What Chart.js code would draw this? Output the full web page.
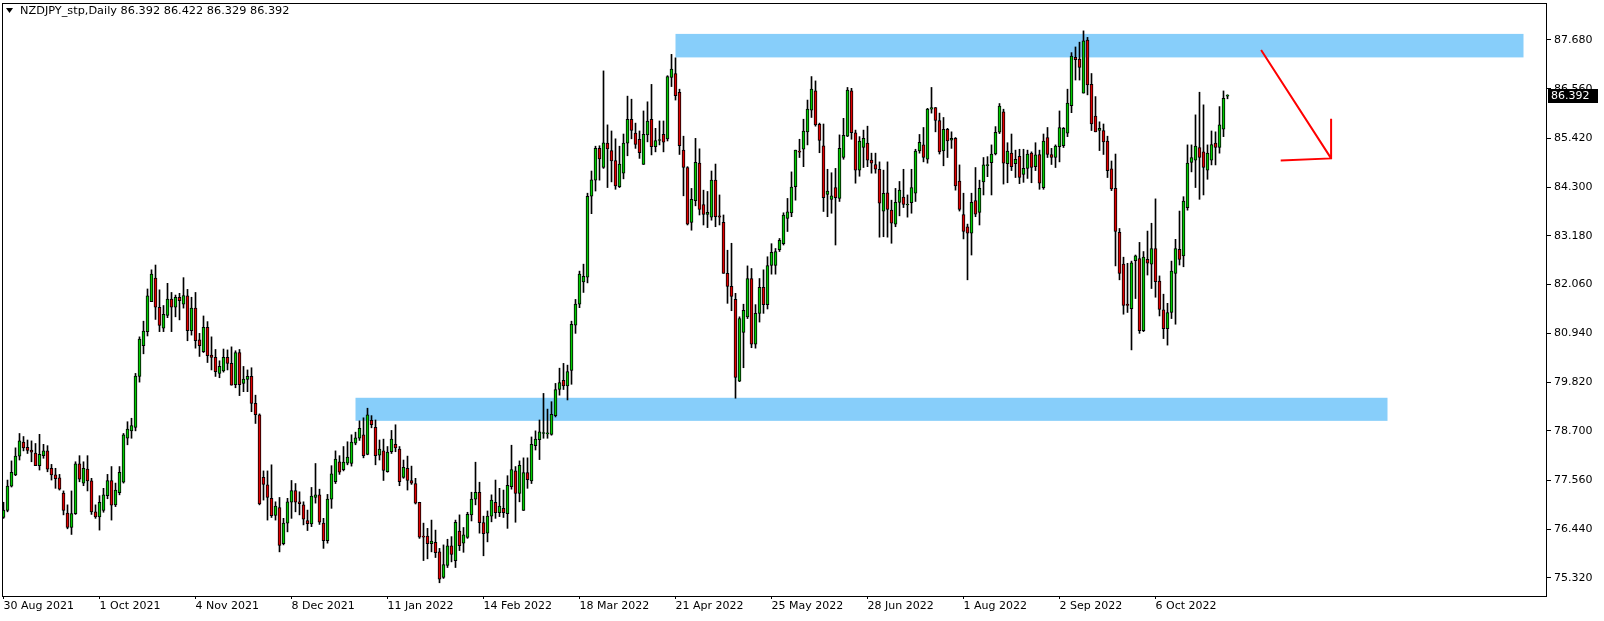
<!DOCTYPE html>
<html>
<head>
<meta charset="utf-8">
<script src="https://cdn.jsdelivr.net/npm/chart.js@4.4.0/dist/chart.umd.min.js"></script>
<style>
html, body { margin: 0; padding: 0; background: #fff; }
#chart { display: block; }
</style>
</head>
<body>
<canvas id="chart" width="1604" height="621"></canvas>
<script>
// NZDJPY daily, 30 Aug 2021 .. end Oct 2022, one bar per trading day
const symbol = 'NZDJPY_stp,Daily';
const tickStep = 24;
const tickLabels = ['30 Aug 2021', '1 Oct 2021', '4 Nov 2021', '8 Dec 2021', '11 Jan 2022', '14 Feb 2022',
  '18 Mar 2022', '21 Apr 2022', '25 May 2022', '28 Jun 2022', '1 Aug 2022', '2 Sep 2022', '6 Oct 2022'];
const priceTicks = [75.32, 76.44, 77.56, 78.70, 79.82, 80.94, 82.06, 83.18, 84.30, 85.42, 86.56, 87.68];

const opens = [
  76.71, 76.87, 77.43, 77.69, 78.12, 78.44, 78.32, 78.26, 78.19, 77.90,
  78.13, 78.24, 77.84, 77.69, 77.62, 77.27, 76.81, 76.48, 76.80, 77.94,
  77.50, 77.82, 77.55, 76.84, 76.72, 76.87, 77.21, 77.56, 77.00, 77.28,
  77.52, 78.53, 78.70, 78.78, 79.95, 80.66, 80.98, 81.67, 82.21, 81.54,
  81.06, 81.35, 81.73, 81.54, 81.77, 81.61, 81.80, 81.00, 81.52, 80.79,
  80.52, 81.08, 80.44, 80.39, 80.02, 80.08, 80.39, 80.25, 79.76, 80.50,
  79.79, 79.88, 79.95, 79.33, 79.07, 77.63, 77.46, 77.15, 76.76, 76.94,
  76.11, 76.58, 77.06, 77.33, 77.07, 77.00, 76.64, 76.56, 77.17, 77.23,
  76.58, 76.18, 77.13, 77.53, 77.99, 77.81, 77.96, 77.95, 78.42, 78.53,
  78.61, 78.16, 78.94, 78.78, 78.14, 78.24, 77.76, 78.22, 78.39, 78.28,
  77.63, 77.84, 77.56, 77.49, 77.06, 76.27, 76.28, 76.11, 76.14, 75.92,
  75.33, 75.61, 76.06, 75.72, 76.40, 76.12, 76.25, 76.77, 77.13, 77.29,
  76.59, 76.35, 76.74, 77.06, 76.82, 76.92, 76.80, 77.42, 77.78, 77.26,
  76.87, 77.74, 77.55, 78.36, 78.50, 78.64, 78.63, 78.62, 79.05, 79.65,
  79.86, 79.73, 80.09, 81.13, 81.61, 82.12, 82.23, 84.09, 84.46, 85.19,
  84.75, 85.31, 85.14, 84.91, 84.31, 84.62, 85.31, 85.86, 85.54, 85.40,
  84.82, 85.50, 85.86, 85.23, 85.37, 85.51, 85.41, 86.82, 86.91, 86.48,
  85.15, 84.75, 83.49, 83.99, 84.85, 83.90, 83.67, 83.61, 84.46, 83.64,
  83.49, 82.32, 82.02, 81.72, 79.84, 80.96, 81.32, 82.20, 80.69, 81.40,
  82.00, 81.60, 82.50, 82.50, 82.86, 83.00, 83.58, 83.71, 84.31, 85.13,
  85.17, 85.57, 86.07, 86.51, 85.74, 85.25, 84.13, 84.02, 84.29, 84.04,
  84.98, 85.47, 86.51, 85.55, 84.69, 85.21, 85.31, 84.92, 84.82, 84.71,
  83.75, 84.17, 83.77, 83.45, 83.95, 84.07, 83.89, 83.94, 84.16, 85.13,
  85.27, 84.94, 86.09, 86.13, 85.83, 85.13, 85.63, 85.38, 85.42, 84.44,
  83.67, 83.39, 83.24, 83.99, 83.72, 84.42, 84.79, 84.86, 85.06, 85.56,
  86.03, 84.84, 85.08, 84.84, 85.01, 84.59, 84.73, 85.08, 84.77, 85.05,
  84.29, 85.44, 85.05, 84.98, 85.23, 85.25, 85.54, 86.17, 87.28, 87.24,
  86.46, 87.68, 86.66, 85.93, 85.60, 85.60, 85.36, 84.72, 84.27, 83.26,
  82.53, 81.61, 81.51, 82.61, 82.66, 81.00, 82.64, 82.53, 82.89, 82.14,
  81.48, 81.05, 81.42, 82.32, 82.87, 82.72, 83.83, 84.87, 84.92, 85.21,
  85.11, 84.69, 84.92, 85.31, 85.21, 85.63, 86.392
];
const highs = [
  77.06, 77.57, 78.01, 78.31, 78.64, 78.57, 78.49, 78.47, 78.41, 78.62,
  78.39, 78.36, 77.93, 77.84, 77.70, 77.32, 77.00, 77.32, 77.99, 78.13,
  77.99, 78.13, 77.61, 77.00, 77.21, 77.38, 77.70, 77.88, 77.50, 77.88,
  78.64, 78.91, 78.99, 80.02, 80.86, 81.22, 81.96, 82.40, 82.51, 81.94,
  81.58, 82.09, 81.88, 81.82, 81.86, 82.22, 81.95, 81.77, 81.88, 80.94,
  81.34, 81.21, 80.86, 80.57, 80.31, 80.58, 80.56, 80.63, 80.54, 80.57,
  80.18, 80.10, 80.15, 79.52, 79.09, 77.78, 77.78, 77.92, 77.07, 77.17,
  76.69, 77.15, 77.56, 77.49, 77.30, 77.07, 76.88, 77.40, 77.95, 77.36,
  76.69, 77.24, 77.90, 78.24, 78.13, 78.34, 78.45, 78.61, 78.67, 78.93,
  79.00, 79.22, 79.05, 78.95, 78.49, 78.51, 78.34, 78.71, 78.84, 78.34,
  78.03, 78.12, 77.89, 77.61, 77.06, 76.58, 76.46, 76.65, 76.42, 76.00,
  76.08, 76.21, 76.27, 76.65, 76.77, 76.48, 76.83, 77.29, 77.98, 77.52,
  76.74, 76.86, 77.23, 77.57, 77.38, 77.34, 77.67, 78.37, 77.88, 78.01,
  78.08, 78.08, 78.56, 78.70, 78.95, 79.56, 79.20, 79.37, 79.79, 80.14,
  80.25, 80.21, 81.22, 81.72, 82.37, 82.53, 84.16, 84.67, 85.24, 85.25,
  86.97, 85.73, 85.59, 85.41, 85.24, 85.52, 86.39, 86.32, 85.77, 85.59,
  86.05, 86.26, 86.66, 85.65, 85.82, 85.82, 86.86, 87.35, 87.27, 86.55,
  85.47, 84.77, 84.27, 85.42, 85.18, 84.23, 84.20, 84.67, 84.83, 84.12,
  83.66, 82.85, 83.01, 81.86, 81.32, 81.61, 82.49, 82.43, 81.60, 82.20,
  82.40, 82.70, 83.00, 82.89, 83.12, 83.71, 84.04, 84.65, 85.15, 85.40,
  85.86, 86.30, 86.84, 86.74, 85.77, 85.75, 84.71, 84.63, 84.73, 85.50,
  85.88, 86.59, 86.57, 85.61, 85.46, 85.61, 85.70, 85.08, 85.08, 84.88,
  84.69, 84.88, 84.00, 84.27, 84.43, 84.71, 84.12, 84.71, 85.17, 85.51,
  85.67, 86.11, 86.59, 86.13, 86.00, 85.90, 85.65, 85.57, 85.44, 84.81,
  84.16, 83.45, 84.16, 84.75, 84.46, 84.98, 85.00, 85.27, 85.69, 86.22,
  86.09, 85.32, 85.52, 85.15, 85.17, 85.17, 85.15, 85.11, 85.32, 85.15,
  85.52, 85.67, 85.19, 85.27, 86.05, 85.67, 86.55, 87.39, 87.52, 87.63,
  87.89, 87.74, 86.91, 86.38, 85.80, 85.75, 85.47, 84.90, 85.06, 83.35,
  82.69, 82.55, 82.60, 82.74, 83.03, 82.82, 83.29, 83.47, 84.03, 82.26,
  81.84, 81.63, 82.60, 83.10, 83.75, 84.08, 85.27, 85.27, 85.96, 86.48,
  86.19, 85.27, 85.59, 85.57, 86.15, 86.51, 86.422
];
const lows = [
  76.69, 76.84, 77.41, 77.67, 78.03, 78.24, 78.18, 77.99, 77.90, 77.80,
  78.07, 77.76, 77.57, 77.38, 77.34, 76.77, 76.45, 76.32, 76.78, 77.53,
  77.44, 77.32, 76.78, 76.69, 76.42, 76.83, 77.14, 76.65, 76.96, 77.23,
  77.50, 78.38, 78.53, 78.70, 79.82, 80.47, 80.88, 81.67, 81.26, 80.98,
  80.98, 81.30, 80.98, 81.32, 81.25, 81.52, 80.77, 80.90, 80.60, 80.41,
  80.50, 80.27, 80.10, 79.95, 79.92, 80.05, 80.10, 79.75, 79.69, 79.51,
  79.60, 79.60, 79.14, 78.87, 77.00, 77.11, 76.65, 76.71, 76.65, 75.92,
  76.08, 76.38, 76.69, 76.84, 76.77, 76.54, 76.41, 76.50, 77.04, 76.55,
  76.00, 76.12, 76.92, 77.49, 77.70, 77.78, 77.92, 77.89, 78.38, 78.48,
  78.08, 78.15, 78.77, 77.92, 78.03, 77.56, 77.75, 78.18, 78.22, 77.44,
  77.61, 77.34, 77.47, 77.02, 76.23, 75.72, 75.76, 75.92, 75.79, 75.21,
  75.31, 75.56, 75.69, 75.56, 75.95, 75.91, 76.23, 76.63, 77.00, 76.35,
  75.83, 76.15, 76.61, 76.69, 76.73, 76.71, 76.46, 77.36, 76.60, 77.07,
  76.87, 77.38, 77.49, 78.26, 78.04, 78.53, 78.53, 78.60, 79.02, 79.52,
  79.65, 79.41, 79.77, 80.94, 81.53, 81.88, 82.10, 83.69, 84.21, 84.46,
  84.73, 84.29, 84.42, 84.25, 84.29, 84.49, 85.02, 85.41, 85.19, 84.96,
  84.82, 85.34, 85.04, 85.11, 85.27, 85.11, 85.36, 86.61, 86.30, 85.05,
  84.10, 83.43, 83.31, 83.87, 83.66, 83.43, 83.37, 83.54, 83.39, 83.43,
  82.32, 81.63, 81.46, 79.45, 79.83, 80.15, 81.28, 80.61, 80.60, 81.20,
  81.40, 81.50, 82.30, 82.30, 82.82, 82.97, 83.28, 83.62, 84.00, 84.98,
  84.77, 85.27, 85.90, 85.70, 85.09, 83.74, 83.62, 83.70, 82.97, 83.97,
  84.94, 85.46, 85.40, 84.39, 84.55, 84.75, 84.77, 84.62, 84.62, 83.15,
  83.16, 83.15, 83.01, 83.39, 83.64, 83.83, 83.61, 83.70, 83.97, 85.08,
  84.88, 84.85, 86.00, 85.57, 85.06, 84.79, 84.98, 85.19, 84.23, 83.75,
  83.11, 82.17, 82.74, 83.62, 83.43, 84.12, 84.54, 84.12, 85.04, 85.53,
  84.37, 84.40, 84.68, 84.52, 84.38, 84.41, 84.50, 84.40, 84.68, 84.25,
  84.25, 84.98, 84.82, 84.75, 84.88, 85.21, 85.46, 86.01, 86.76, 86.76,
  86.46, 86.42, 85.60, 85.57, 85.14, 85.05, 84.52, 84.22, 82.49, 82.17,
  81.38, 81.42, 80.56, 81.74, 80.94, 80.98, 82.28, 81.97, 81.77, 81.34,
  80.82, 80.67, 81.28, 81.15, 82.51, 82.47, 83.77, 84.65, 84.29, 84.02,
  84.12, 84.48, 84.81, 84.81, 85.08, 85.46, 86.329
];
const closes = [
  76.88, 77.43, 77.75, 78.12, 78.47, 78.31, 78.25, 78.21, 77.90, 78.16,
  78.24, 77.82, 77.69, 77.60, 77.36, 76.87, 76.48, 76.80, 77.94, 77.59,
  77.84, 77.55, 76.84, 76.72, 77.06, 77.23, 77.56, 76.99, 77.34, 77.75,
  78.61, 78.74, 78.82, 79.96, 80.81, 80.99, 81.80, 82.30, 81.54, 81.12,
  81.38, 81.73, 81.54, 81.77, 81.69, 81.81, 81.00, 81.52, 80.77, 80.66,
  81.08, 80.43, 80.39, 80.06, 80.18, 80.39, 80.25, 79.75, 80.50, 79.76,
  79.89, 79.95, 79.33, 79.07, 77.02, 77.47, 77.17, 76.75, 76.97, 76.07,
  76.58, 77.07, 77.33, 77.06, 77.03, 76.67, 76.57, 77.20, 77.23, 76.60,
  76.18, 77.13, 77.71, 78.05, 77.75, 77.98, 78.10, 78.44, 78.54, 78.76,
  78.13, 79.07, 78.84, 78.13, 78.28, 77.79, 78.21, 78.51, 78.31, 77.53,
  77.86, 77.56, 77.50, 77.04, 76.26, 76.26, 76.11, 76.17, 75.90, 75.29,
  75.63, 76.06, 75.86, 76.60, 76.06, 76.31, 76.78, 77.13, 77.29, 76.59,
  76.34, 76.74, 77.11, 76.82, 76.97, 76.82, 77.45, 77.81, 77.26, 77.91,
  77.74, 77.58, 78.39, 78.51, 78.68, 78.64, 78.64, 79.08, 79.65, 79.81,
  79.73, 80.06, 81.15, 81.61, 82.30, 82.25, 84.09, 84.47, 85.19, 84.95,
  85.32, 85.18, 84.90, 84.33, 84.83, 85.31, 85.86, 85.60, 85.28, 85.09,
  85.51, 85.82, 85.23, 85.37, 85.39, 85.33, 86.84, 87.01, 86.40, 85.25,
  84.75, 83.45, 84.02, 84.87, 83.79, 83.67, 83.72, 84.46, 83.62, 83.61,
  82.32, 82.02, 81.79, 79.93, 81.28, 81.47, 82.20, 80.69, 81.40, 82.00,
  81.60, 82.50, 82.80, 82.82, 83.08, 83.66, 83.73, 84.30, 85.15, 85.10,
  85.59, 86.09, 86.55, 85.73, 85.37, 84.06, 84.21, 84.10, 84.06, 85.19,
  85.49, 86.53, 85.55, 84.69, 85.36, 85.42, 84.92, 84.85, 84.71, 83.93,
  84.16, 83.79, 83.47, 83.95, 84.23, 83.90, 83.91, 84.29, 85.13, 85.33,
  84.98, 86.09, 86.13, 85.83, 85.11, 85.63, 85.36, 85.42, 84.33, 83.79,
  83.28, 83.24, 83.95, 83.68, 84.27, 84.81, 84.82, 85.06, 85.56, 86.16,
  84.85, 85.13, 84.77, 84.94, 84.52, 84.73, 85.06, 84.75, 85.04, 84.39,
  85.36, 85.05, 84.98, 85.24, 85.67, 85.65, 86.23, 87.31, 87.23, 87.05,
  87.66, 86.65, 85.75, 85.57, 85.65, 85.34, 84.68, 84.26, 83.28, 82.32,
  81.58, 81.58, 82.56, 82.72, 81.00, 82.69, 82.55, 82.89, 82.13, 81.49,
  81.05, 81.42, 82.37, 82.89, 82.64, 83.98, 84.85, 84.98, 85.24, 84.98,
  84.75, 85.08, 85.28, 85.21, 85.73, 86.34, 86.392
];

// supply / demand zones drawn on the chart (bar index range, price range)
const zoneStart = [168, 88];
const zoneEnd = [380, 346];
const zoneTop = [87.82, 79.46];
const zoneBottom = [87.28, 78.93];

// hand-drawn red arrow (bar index, price)
const arrowBars = [314.4, 331.9];
const arrowPrices = [87.45, 84.96];
const headBars = [331.9, 319.3];
const headPrices = [85.87, 84.91];

const upColor = '#00cc00';
const downColor = '#e00000';
const zoneColor = '#87cefa';
const font = { family: 'DejaVu Sans', size: 11 };

const wicks = lows.map((l, i) => ({ x: i, y: [l, highs[i]] }));
const bodies = opens.map((o, i) => ({ x: i, y: [o, closes[i]] }));

const drawings = {
  id: 'drawings',
  beforeDatasetsDraw(chart) {
    const { ctx, chartArea, scales: { x, y } } = chart;
    ctx.save();
    ctx.beginPath();
    ctx.rect(chartArea.left, chartArea.top, chartArea.right - chartArea.left, chartArea.bottom - chartArea.top);
    ctx.clip();
    ctx.fillStyle = zoneColor;
    for (let k = 0; k < zoneStart.length; k++) {
      const l = x.getPixelForValue(zoneStart[k]);
      const r = x.getPixelForValue(zoneEnd[k]);
      const t = y.getPixelForValue(zoneTop[k]);
      const b = y.getPixelForValue(zoneBottom[k]);
      ctx.fillRect(l, t, r - l, b - t);
    }
    ctx.restore();
  },
  afterDraw(chart) {
    const { ctx, chartArea, scales: { x, y } } = chart;
    ctx.save();
    // arrow
    ctx.strokeStyle = '#ff0000';
    ctx.lineWidth = 2;
    const tipX = x.getPixelForValue(arrowBars[1]);
    const tipY = y.getPixelForValue(arrowPrices[1]);
    ctx.beginPath();
    ctx.moveTo(x.getPixelForValue(arrowBars[0]), y.getPixelForValue(arrowPrices[0]));
    ctx.lineTo(tipX, tipY);
    ctx.moveTo(x.getPixelForValue(headBars[0]), y.getPixelForValue(headPrices[0]));
    ctx.lineTo(tipX, tipY);
    ctx.lineTo(x.getPixelForValue(headBars[1]), y.getPixelForValue(headPrices[1]));
    ctx.stroke();

    // frame
    ctx.strokeStyle = '#000';
    ctx.lineWidth = 1;
    ctx.strokeRect(chartArea.left + 0.5, chartArea.top + 0.5,
      chartArea.right - chartArea.left - 1, chartArea.bottom - chartArea.top);

    // header
    ctx.fillStyle = '#000';
    ctx.beginPath();
    ctx.moveTo(6, 8); ctx.lineTo(13, 8); ctx.lineTo(9.5, 13);
    ctx.closePath();
    ctx.fill();
    ctx.font = '11.3px "DejaVu Sans"';
    ctx.textBaseline = 'middle';
    const last = closes.length - 1;
    const ohlc = [opens[last], highs[last], lows[last], closes[last]].map(v => v.toFixed(3)).join(' ');
    ctx.fillText(symbol + ' ' + ohlc, 20, 11);

    // last price tag
    ctx.font = '11px "DejaVu Sans"';
    const py = Math.round(y.getPixelForValue(closes[last]));
    ctx.fillRect(chartArea.right + 1, py - 7, 50, 14);
    ctx.fillStyle = '#fff';
    ctx.fillText(closes[last].toFixed(3), chartArea.right + 4, py);
    ctx.restore();
  }
};

new Chart(document.getElementById('chart'), {
  type: 'bar',
  data: {
    datasets: [{
      label: 'body',
      data: bodies,
      order: 0,
      grouped: false,
      barThickness: 3,
      minBarLength: 1,
      borderWidth: 1,
      borderSkipped: false,
      borderColor: '#000',
      backgroundColor: ctx => closes[ctx.dataIndex] >= opens[ctx.dataIndex] ? upColor : downColor
    }, {
      label: 'wick',
      data: wicks,
      order: 1,
      grouped: false,
      barThickness: 1,
      borderWidth: 0,
      backgroundColor: '#000'
    }]
  },
  options: {
    responsive: false,
    animation: false,
    devicePixelRatio: 1,
    layout: { padding: { left: 2, top: 3, right: 0, bottom: 0 }, autoPadding: false },
    plugins: { legend: { display: false }, tooltip: { enabled: false } },
    scales: {
      x: {
        type: 'linear',
        offset: false,
        min: -0.375,
        max: 385.875,
        afterBuildTicks: s => { s.ticks = tickLabels.map((_, k) => ({ value: k * tickStep })); },
        afterFit: s => { s.height = 25; s.paddingLeft = 0; s.paddingRight = 0; },
        border: { display: false },
        grid: { offset: false, drawOnChartArea: false, drawTicks: true, tickLength: 3, color: '#000' },
        ticks: {
          align: 'start', maxRotation: 0, autoSkip: false, padding: 1,
          color: '#000', font: font,
          callback: v => tickLabels[Math.round(v / tickStep)]
        }
      },
      y: {
        type: 'linear',
        position: 'right',
        beginAtZero: false,
        min: 74.906,
        max: 88.53,
        afterBuildTicks: s => { s.ticks = priceTicks.map(v => ({ value: v })); },
        afterFit: s => { s.width = 57; s.paddingTop = 0; s.paddingBottom = 0; },
        border: { display: false },
        grid: { drawOnChartArea: false, drawTicks: true, tickLength: 4, color: '#000' },
        ticks: { padding: 3, color: '#000', font: font, callback: v => v.toFixed(3) }
      }
    }
  },
  plugins: [drawings]
});
</script>
</body>
</html>
